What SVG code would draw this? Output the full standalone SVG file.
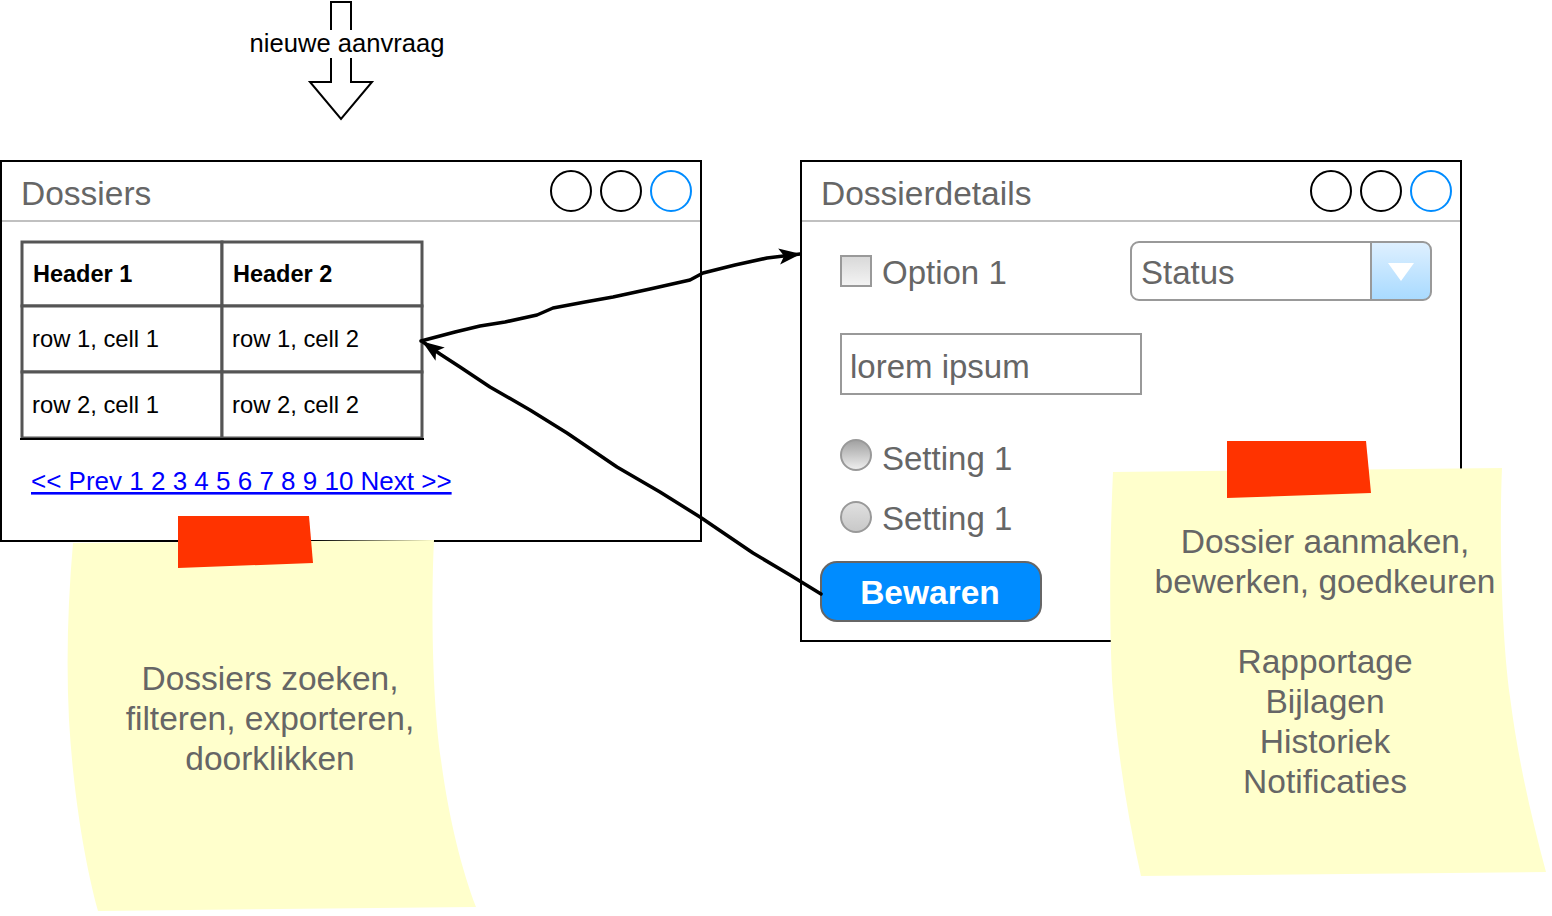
<svg xmlns="http://www.w3.org/2000/svg" width="1552" height="916" viewBox="0 0 1552 916">
<defs>
<style>
text{font-family:"Liberation Sans",Arial,Helvetica,sans-serif}
.win{fill:#fff;stroke:#000;stroke-width:2}
.sep{stroke:#c0c0c0;stroke-width:2}
.title{font-size:33.5px;fill:#666}
.btn{fill:none;stroke:#000;stroke-width:2}
.btnb{fill:none;stroke:#008cff;stroke-width:2}
.cell{fill:#fff;stroke:#555;stroke-width:3}
.tt{font-size:23.8px;fill:#000}
.th{font-size:23.5px;font-weight:bold;fill:#000}
.ui{font-size:33px;fill:#666}
.field{fill:#fff;stroke:#999;stroke-width:2}
.note{fill:#ffffcc}
.tape{fill:#ff3300}
.nt{font-size:33.5px;fill:#666;text-anchor:middle}
.conn{fill:none;stroke:#000;stroke-width:3.5;stroke-linejoin:round;stroke-linecap:round}
</style>
<linearGradient id="gChk" x1="0" y1="0" x2="0" y2="1"><stop offset="0" stop-color="#d8d8d8"/><stop offset="1" stop-color="#f4f4f4"/></linearGradient>
<linearGradient id="gRad1" x1="0" y1="0" x2="0" y2="1"><stop offset="0" stop-color="#a0a0a0"/><stop offset="1" stop-color="#f0f0f0"/></linearGradient>
<linearGradient id="gRad2" x1="0" y1="0" x2="0" y2="1"><stop offset="0" stop-color="#e0e0e0"/><stop offset="1" stop-color="#c8c8c8"/></linearGradient>
<linearGradient id="gCombo" x1="0" y1="0" x2="0" y2="1"><stop offset="0" stop-color="#dff0ff"/><stop offset="1" stop-color="#a8daff"/></linearGradient>
<marker id="arr" markerWidth="22" markerHeight="18" refX="21" refY="9" orient="auto" markerUnits="userSpaceOnUse">
<path d="M0,1 L22,9 L0,17 L5,9 Z" fill="#000"/>
</marker>
</defs>
<rect width="1552" height="916" fill="#fff"/>

<g id="new-request">
<path d="M331,2 L351,2 L351,82 L372,82 L341,119 L310,82 L331,82 Z" fill="#fff" stroke="#000" stroke-width="2"/>
<rect x="246" y="30" width="202" height="28" fill="#fff"/>
<text x="347" y="52" font-size="25.6px" text-anchor="middle" fill="#000">nieuwe aanvraag</text>
</g>

<g id="dossiers-window">
<rect class="win" x="1" y="161" width="700" height="380"/>
<line class="sep" x1="2" y1="221" x2="700" y2="221"/>
<text class="title" x="21" y="205">Dossiers</text>
<circle class="btn" cx="571" cy="191" r="20"/>
<circle class="btn" cx="621" cy="191" r="20"/>
<circle class="btnb" cx="671" cy="191" r="20"/>
<g id="table">
<rect class="cell" x="22" y="242" width="200" height="64"/>
<rect class="cell" x="222" y="242" width="200" height="64"/>
<rect class="cell" x="22" y="306" width="200" height="66"/>
<rect class="cell" x="222" y="306" width="200" height="66"/>
<rect class="cell" x="22" y="372" width="200" height="66"/>
<rect class="cell" x="222" y="372" width="200" height="66"/>
<line x1="20" y1="439" x2="424" y2="439" stroke="#000" stroke-width="2"/>
<text class="th" x="33" y="282">Header 1</text>
<text class="th" x="233" y="282">Header 2</text>
<text class="tt" x="32" y="347">row 1, cell 1</text>
<text class="tt" x="232" y="347">row 1, cell 2</text>
<text class="tt" x="32" y="413">row 2, cell 1</text>
<text class="tt" x="232" y="413">row 2, cell 2</text>
</g>
<text x="31" y="490" font-size="26px" fill="#0000ff" text-decoration="underline">&lt;&lt; Prev 1 2 3 4 5 6 7 8 9 10 Next &gt;&gt;</text>
</g>

<g id="dossierdetails-window">
<rect class="win" x="801" y="161" width="660" height="480"/>
<line class="sep" x1="802" y1="221" x2="1460" y2="221"/>
<text class="title" x="821" y="205">Dossierdetails</text>
<circle class="btn" cx="1331" cy="191" r="20"/>
<circle class="btn" cx="1381" cy="191" r="20"/>
<circle class="btnb" cx="1431" cy="191" r="20"/>
<rect x="841" y="256" width="30" height="30" fill="url(#gChk)" stroke="#999" stroke-width="2"/>
<text class="ui" x="882" y="284">Option 1</text>
<g id="status-combo">
<path d="M1371,242 L1423,242 Q1431,242 1431,250 L1431,292 Q1431,300 1423,300 L1371,300 Z" fill="url(#gCombo)"/>
<rect x="1131" y="242" width="300" height="58" rx="8" ry="8" fill="none" stroke="#999" stroke-width="2"/>
<line x1="1371" y1="242" x2="1371" y2="300" stroke="#999" stroke-width="2"/>
<path d="M1388,263 L1414,263 L1401,281 Z" fill="#fff"/>
<text class="ui" x="1141" y="284">Status</text>
</g>
<rect class="field" x="841" y="334" width="300" height="60"/>
<text class="ui" x="850" y="378">lorem ipsum</text>
<circle cx="856" cy="455" r="15" fill="url(#gRad1)" stroke="#999" stroke-width="2"/>
<text class="ui" x="882" y="470">Setting 1</text>
<circle cx="856" cy="517" r="15" fill="url(#gRad2)" stroke="#999" stroke-width="2"/>
<text class="ui" x="882" y="530">Setting 1</text>
<g id="bewaren">
<rect x="821" y="562" width="220" height="59" rx="16" ry="16" fill="#008cff" stroke="#666" stroke-width="2"/>
<text x="930" y="604" font-size="33.5px" font-weight="bold" fill="#fff" text-anchor="middle">Bewaren</text>
</g>
</g>

<g id="note-left">
<path class="note" d="M73,543 L434,540 C431,600 432,700 441,760 C449,820 462,870 476,907 L98,911 C84,860 73,790 69,720 C66,660 68,600 73,543 Z"/>
<path class="tape" d="M178,516 L309,516 L313,563 L178,568 Z"/>
<text class="nt" x="270" y="690">Dossiers zoeken,</text>
<text class="nt" x="270" y="730">filteren, exporteren,</text>
<text class="nt" x="270" y="770">doorklikken</text>
</g>

<g id="note-right">
<path class="note" d="M1113,472 L1502,468 C1499,540 1502,640 1510,697 C1518,760 1532,820 1546,872 L1141,876 C1126,810 1116,740 1112,680 C1109,610 1110,540 1113,472 Z"/>
<path class="tape" d="M1227,441 L1366,441 L1371,493 L1227,498 Z"/>
<text class="nt" x="1325" y="553">Dossier aanmaken,</text>
<text class="nt" x="1325" y="593">bewerken, goedkeuren</text>
<text class="nt" x="1325" y="673">Rapportage</text>
<text class="nt" x="1325" y="713">Bijlagen</text>
<text class="nt" x="1325" y="753">Historiek</text>
<text class="nt" x="1325" y="793">Notificaties</text>
</g>

<g id="connectors">
<path class="conn" marker-end="url(#arr)" d="M421,341 L455,332 L480,326 L505,322 L537,315 L553,308 L585,302 L613,297 L650,289 L690,280 L703,273 L735,265 L767,258 L800,254"/>
<path class="conn" marker-end="url(#arr)" d="M821,594 L790,575 L753,553 L700,517 L660,492 L617,467 L567,433 L530,410 L490,387 L460,367 L440,354 L423,342"/>
</g>
</svg>
